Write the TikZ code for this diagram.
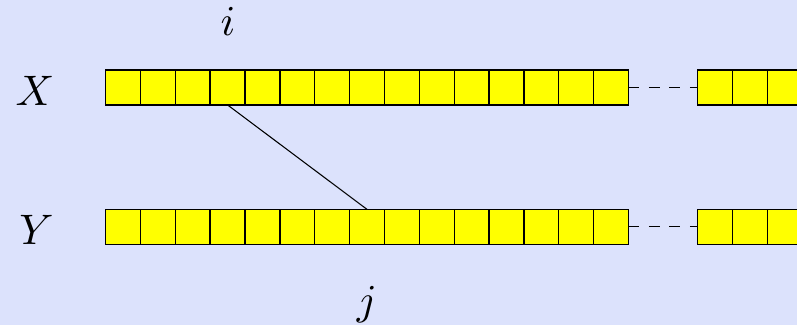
\documentclass[tikz,border=0pt]{standalone}
\usepackage{graphicx}
\usepackage{tikz}
\definecolor{bgblue}{RGB}{220,226,252}
\definecolor{cellyellow}{RGB}{255,255,0}
\newcommand{\biglbl}[1]{\scalebox{3.2}{$#1$}}
\begin{document}
\begin{tikzpicture}[x=0.75pt,y=-0.75pt,
  cell/.style={draw=black,fill=cellyellow,line width=1pt,minimum width=26.15pt,minimum height=26.15pt,inner sep=0pt,outer sep=0pt},
  lbl/.style={anchor=base,inner sep=0pt},
  gapline/.style={line width=1pt,dash pattern=on 8pt off 7.3pt},
  link/.style={line width=0.8pt}]
\fill[bgblue] (0,0) rectangle (797,325);
\useasboundingbox (0,0) rectangle (797,325);
% X row
\foreach \k in {1,...,15}{
  \node[cell] (x\k) at ({105.5+34.87*(\k-0.5)},87.5) {};
}
\foreach \k in {16,17,18}{
  \node[cell] (x\k) at ({697.7+34.9*(\k-15.5)},87.5) {};
}
% Y row
\foreach \k in {1,...,15}{
  \node[cell] (y\k) at ({105.5+34.87*(\k-0.5)},226.8) {};
}
\foreach \k in {16,17,18}{
  \node[cell] (y\k) at ({697.7+34.9*(\k-15.5)},226.8) {};
}
\draw[gapline] (x15.east) -- (x16.west);
\draw[gapline] (y15.east) -- (y16.west);
\draw[link] (x4.south) -- (y8.north);
\node[lbl] (lx) at (35,105) {\biglbl{X}};
\node[lbl] (ly) at (36.5,244) {\biglbl{Y}};
\node[lbl] (li) at (228,35) {\biglbl{i}};
\node[lbl] (lj) at (367,314) {\biglbl{j}};
\end{tikzpicture}
\end{document}
